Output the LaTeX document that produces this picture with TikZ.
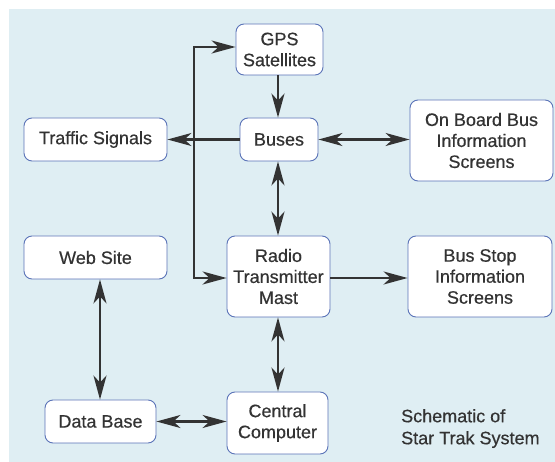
\documentclass[tikz,border=0pt]{standalone}
\usepackage{fontspec}
\setmainfont{Liberation Sans}[FakeBold=0.5]
\usetikzlibrary{arrows.meta}
\definecolor{bgblue}{HTML}{DFEEF3}
\definecolor{boxline}{HTML}{5B74B8}
\definecolor{ink}{HTML}{333333}
\begin{document}
\begin{tikzpicture}[x=1pt,y=-1pt,
  box/.style={draw=boxline, line width=0.9pt, fill=white, rounded corners=8pt,
    align=center, inner sep=0pt, text=ink,
    font=\fontsize{18}{21}\selectfont},
  conn/.style={draw=ink, line width=2.1pt},
  tip/.style={-{Stealth[length=24pt,width=13pt,inset=7pt]}},
  tips/.style={{Stealth[length=24pt,width=13pt,inset=7pt]}-{Stealth[length=24pt,width=13pt,inset=7pt]}}
]
\useasboundingbox (0,0) rectangle (555,462);
\fill[bgblue] (9,9) rectangle (555,462);

\node[box, minimum width=87pt, minimum height=51pt] (gps) at (279.5,49.5) {GPS\\Satellites};
\node[box, minimum width=78pt, minimum height=43pt] (bus) at (279,139.5) {Buses};
\node[box, minimum width=143pt, minimum height=43pt] (ts) at (95.5,139.5) {Traffic Signals};
\node[box, minimum width=143pt, minimum height=81pt] (onb) at (481.5,140.5) {On Board Bus\\Information\\Screens};
\node[box, minimum width=143pt, minimum height=43pt] (web) at (95.5,257.5) {Web Site};
\node[box, minimum width=103pt, minimum height=81pt] (radio) at (278.5,276.5) {Radio\\Transmitter\\Mast};
\node[box, minimum width=144pt, minimum height=81pt] (bstop) at (480,276.5) {Bus Stop\\Information\\Screens};
\node[box, minimum width=111pt, minimum height=43pt] (db) at (100.5,421.5) {Data Base};
\node[box, minimum width=101pt, minimum height=62pt] (cc) at (277.5,423) {Central\\Computer};

\node[anchor=north west, align=left, inner sep=0pt, text=ink,
  font=\fontsize{18}{22}\selectfont] (cap) at (401,409) {Schematic of\\Star Trak System};

\coordinate (j) at (194,139.5);
\coordinate (jt) at (194,47);
\coordinate (jb) at (194,278);

\draw[conn, tip] (gps.south -| 278,0) -- (bus.north -| 278,0);
\draw[conn, tips] (bus.east) -- (onb.west |- bus.east);
\draw[conn, tip] (bus.west) -- (ts.east);
\draw[conn, tip] (j) -- (jt) -- (gps.west |- jt);
\draw[conn, tip] (j) -- (jb) -- (radio.west |- jb);
\draw[conn, tips] (bus.south -| 278,0) -- (radio.north -| 278,0);
\draw[conn, tip] (radio.east |- jb) -- (bstop.west |- jb);
\draw[conn, tips] (radio.south -| 278,0) -- (cc.north -| 278,0);
\draw[conn, tips] (web.south -| 100,0) -- (db.north -| 100,0);
\draw[conn, tips] (db.east) -- (cc.west |- db.east);
\end{tikzpicture}
\end{document}
